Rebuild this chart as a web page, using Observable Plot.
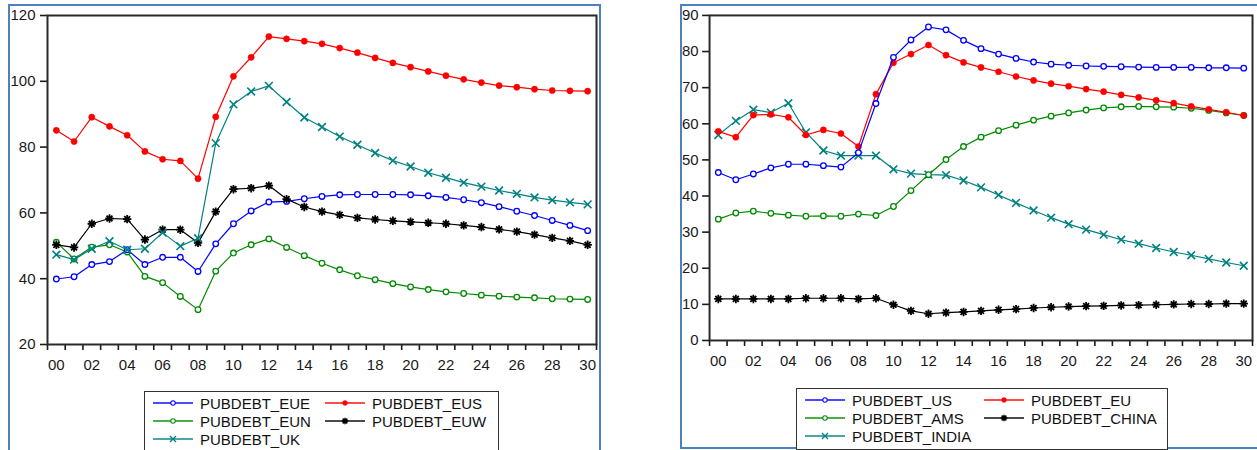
<!DOCTYPE html>
<html>
<head>
<meta charset="utf-8">
<script src="https://cdn.jsdelivr.net/npm/d3@7"></script>
<script src="https://cdn.jsdelivr.net/npm/@observablehq/plot@0.6"></script>
<style>
  html, body { margin: 0; padding: 0; background: #fff; }
  body { position: relative; width: 1257px; height: 450px; overflow: hidden;
         font-family: "Liberation Sans", Arial, sans-serif; color: #111; }
  .frame { position: absolute; box-sizing: border-box; border: 2px solid #4f7fbd; }
  .chart { position: absolute; top: 0; }
  .chart svg { display: block; }
  .legend { position: absolute; box-sizing: border-box; border: 1.5px solid #333;
            background: #fff; padding-top: 2px; display: grid; align-content: start; }
  .item { display: flex; align-items: center; height: 18px; font-size: 15px; white-space: nowrap; }
  .item svg { margin-right: 7px; flex: none; }
</style>
</head>
<body>
<div class="frame" style="left:8px; top:4px; width:593px; height:500px;"></div>
<div class="frame" style="left:680px; top:4px; width:600px; height:445px;"></div>
<div id="left" class="chart" style="left:0px;"></div>
<div id="right" class="chart" style="left:660px;"></div>
<div id="legendL" class="legend" style="left:144px; top:391px; width:355px; height:80px; grid-template-columns: 172px auto; padding-left:8px;"></div>
<div id="legendR" class="legend" style="left:796px; top:388px; width:372px; height:62px; grid-template-columns: 179px auto; padding-left:8px;"></div>
<script>
// Years 2000–2030 (labelled 00 … 30)
const years = d3.range(2000, 2031);

// Europe and UK public debt (% of GDP)
const pubdebtEUE = [39.9,40.6,44.3,45.2,48.8,44.3,46.5,46.5,42.2,50.6,56.7,60.6,63.3,63.5,64.3,65.0,65.5,65.6,65.6,65.6,65.5,65.2,64.7,64.0,63.1,61.9,60.5,59.2,57.7,56.2,54.6];
const pubdebtEUS = [85.1,81.7,89.1,86.3,83.6,78.7,76.3,75.8,70.4,89.2,101.5,107.3,113.6,112.9,112.2,111.4,110.1,108.7,107.1,105.6,104.3,103.0,101.7,100.6,99.6,98.7,98.2,97.6,97.2,97.1,97.0];
const pubdebtEUN = [51.1,46.0,49.6,50.3,48.1,40.7,38.8,34.6,30.6,42.3,47.8,50.3,52.1,49.5,47.0,44.7,42.7,40.9,39.7,38.5,37.5,36.7,36.0,35.5,35.0,34.7,34.4,34.2,33.9,33.8,33.7];
const pubdebtEUW = [50.3,49.5,56.7,58.3,58.1,51.9,54.9,54.9,50.9,60.4,67.2,67.5,68.3,64.2,61.8,60.4,59.4,58.5,58.0,57.6,57.3,57.0,56.7,56.2,55.7,55.0,54.3,53.4,52.4,51.5,50.3];
const pubdebtUK  = [47.3,45.8,49.1,51.4,48.8,49.1,54.0,49.9,52.3,81.2,93.0,96.9,98.6,93.7,89.0,86.1,83.2,80.7,78.2,75.9,74.1,72.2,70.7,69.2,68.0,66.8,65.8,64.7,63.9,63.2,62.6];

// Large economies public debt (% of GDP)
const pubdebtUS    = [46.5,44.5,46.1,47.8,48.8,48.8,48.4,48.0,52.0,65.6,78.4,83.2,86.8,86.0,83.1,80.8,79.3,78.1,77.1,76.5,76.2,76.0,75.9,75.8,75.7,75.6,75.6,75.6,75.5,75.5,75.4];
const pubdebtEU    = [57.9,56.3,62.4,62.6,61.8,56.9,58.3,57.3,53.7,68.2,76.9,79.3,81.8,79.0,77.0,75.6,74.4,73.1,72.0,71.1,70.4,69.6,68.9,68.0,67.3,66.5,65.7,64.8,64.0,63.2,62.3];
const pubdebtAMS   = [33.6,35.3,35.8,35.2,34.7,34.4,34.5,34.4,35.0,34.6,37.1,41.5,45.9,50.1,53.7,56.3,58.1,59.6,61.0,62.1,63.0,63.8,64.4,64.7,64.8,64.7,64.6,64.3,63.7,63.0,62.3];
const pubdebtINDIA = [56.9,60.8,63.9,63.1,65.7,57.6,52.6,51.2,51.2,51.2,47.4,46.2,45.9,45.8,44.3,42.4,40.3,38.1,36.0,34.0,32.2,30.7,29.3,27.9,26.8,25.6,24.5,23.6,22.6,21.6,20.7];
const pubdebtCHINA = [11.5,11.5,11.5,11.5,11.5,11.7,11.7,11.7,11.5,11.7,9.9,8.2,7.4,7.7,7.9,8.2,8.5,8.7,9.0,9.2,9.4,9.5,9.6,9.7,9.8,9.9,10.0,10.1,10.1,10.2,10.2];

// Axis ticks
const yTicksLeft  = [20, 40, 60, 80, 100, 120];
const yTicksRight = [0, 10, 20, 30, 40, 50, 60, 70, 80, 90];
const xLabelYears = d3.range(2000, 2031, 2);
const xTickEdges  = d3.range(1999.5, 2031, 1);

// Eight-spoke asterisk marker
const star8 = {
  draw(ctx, size) {
    const r = Math.sqrt(size / Math.PI);
    for (let k = 0; k < 4; ++k) {
      const a = k * Math.PI / 4, dx = r * Math.cos(a), dy = r * Math.sin(a);
      ctx.moveTo(-dx, -dy); ctx.lineTo(dx, dy);
    }
  }
};

const markerStyles = {
  openCircle: c => ({symbol: "circle", r: 2.8, fill: "#fff", stroke: c, strokeWidth: 1.3}),
  dot:        c => ({symbol: "circle", r: 3.1, fill: c, stroke: c, strokeWidth: 0.5}),
  times:      c => ({symbol: "times", r: 3.6, fill: "none", stroke: c, strokeWidth: 1.6}),
  asterisk:   c => ({symbol: star8, r: 4.2, fill: "none", stroke: c, strokeWidth: 1.8})
};

const leftSeries = [
  {name: "PUBDEBT_EUE", values: pubdebtEUE, color: "#0000ff", marker: "openCircle"},
  {name: "PUBDEBT_EUS", values: pubdebtEUS, color: "#ff0000", marker: "dot"},
  {name: "PUBDEBT_EUN", values: pubdebtEUN, color: "#008a00", marker: "openCircle"},
  {name: "PUBDEBT_EUW", values: pubdebtEUW, color: "#000000", marker: "asterisk"},
  {name: "PUBDEBT_UK",  values: pubdebtUK,  color: "#008080", marker: "times"}
];
const rightSeries = [
  {name: "PUBDEBT_US",    values: pubdebtUS,    color: "#0000ff", marker: "openCircle"},
  {name: "PUBDEBT_EU",    values: pubdebtEU,    color: "#ff0000", marker: "dot"},
  {name: "PUBDEBT_AMS",   values: pubdebtAMS,   color: "#008a00", marker: "openCircle"},
  {name: "PUBDEBT_CHINA", values: pubdebtCHINA, color: "#000000", marker: "asterisk"},
  {name: "PUBDEBT_INDIA", values: pubdebtINDIA, color: "#008080", marker: "times"}
];
// Drawing order (later on top)
const leftOrder  = ["PUBDEBT_EUN", "PUBDEBT_EUE", "PUBDEBT_EUW", "PUBDEBT_UK", "PUBDEBT_EUS"];
const rightOrder = ["PUBDEBT_CHINA", "PUBDEBT_INDIA", "PUBDEBT_AMS", "PUBDEBT_EU", "PUBDEBT_US"];

function seriesMarks(s) {
  const rows = years.map((year, i) => ({year, value: s.values[i]}));
  return [
    Plot.line(rows, {x: "year", y: "value", stroke: s.color, strokeWidth: 1.2}),
    Plot.dot(rows, {x: "year", y: "value", ...markerStyles[s.marker](s.color)})
  ];
}

function panel({series, order, yDomain, yTicks, marginLeft, marginRight, marginBottom, tickPadY}) {
  const byName = new Map(series.map(s => [s.name, s]));
  return Plot.plot({
    width: 600,
    height: 380,
    marginTop: 15,
    marginLeft, marginRight, marginBottom,
    style: {fontFamily: '"Liberation Sans", Arial, sans-serif', fontSize: "15px", color: "#1a1a1a", background: "transparent"},
    x: {domain: [1999.5, 2030.5]},
    y: {domain: yDomain},
    marks: [
      Plot.axisY({ticks: yTicks, tickSize: 7, tickPadding: tickPadY, label: null, tickFormat: d => String(d), strokeWidth: 1.6}),
      Plot.axisX({ticks: xTickEdges, tickSize: 6, tickFormat: () => "", label: null, strokeWidth: 1.6}),
      Plot.axisX({ticks: xLabelYears, tickSize: 0, tickPadding: 15, label: null,
                  tickFormat: d => String(d % 100).padStart(2, "0")}),
      ...order.flatMap(n => seriesMarks(byName.get(n))),
      Plot.frame({stroke: "#2a2a2a", strokeWidth: 2})
    ]
  });
}

document.getElementById("left").append(panel({
  series: leftSeries, order: leftOrder, yDomain: [20, 120], yTicks: yTicksLeft,
  marginLeft: 47, marginRight: 4, marginBottom: 36, tickPadY: 5
}));
document.getElementById("right").append(panel({
  series: rightSeries, order: rightOrder, yDomain: [0, 90], yTicks: yTicksRight,
  marginLeft: 49.3, marginRight: 5, marginBottom: 38.3, tickPadY: 4
}));

// Legend swatches: a short line with the series marker in the middle
function swatch(s) {
  const svg = d3.create("svg").attr("width", 40).attr("height", 12);
  svg.append("line").attr("x1", 0).attr("x2", 40).attr("y1", 6).attr("y2", 6)
    .attr("stroke", s.color).attr("stroke-width", 2).attr("stroke-opacity", 0.7);
  const st = markerStyles[s.marker](s.color);
  const sym = typeof st.symbol === "string"
    ? (st.symbol === "times" ? d3.symbolTimes : d3.symbolCircle) : st.symbol;
  const r = st.r * 0.8;
  svg.append("path").attr("transform", "translate(20,6)")
    .attr("d", d3.symbol(sym, r * r * Math.PI)())
    .attr("fill", st.fill).attr("stroke", st.stroke).attr("stroke-width", st.strokeWidth * 0.8);
  return svg.node();
}
function legend(id, items) {
  const box = document.getElementById(id);
  for (const s of items) {
    const div = document.createElement("div");
    div.className = "item";
    div.append(swatch(s), s.name);
    box.append(div);
  }
}
legend("legendL", leftSeries);
legend("legendR", rightSeries);
</script>
</body>
</html>
